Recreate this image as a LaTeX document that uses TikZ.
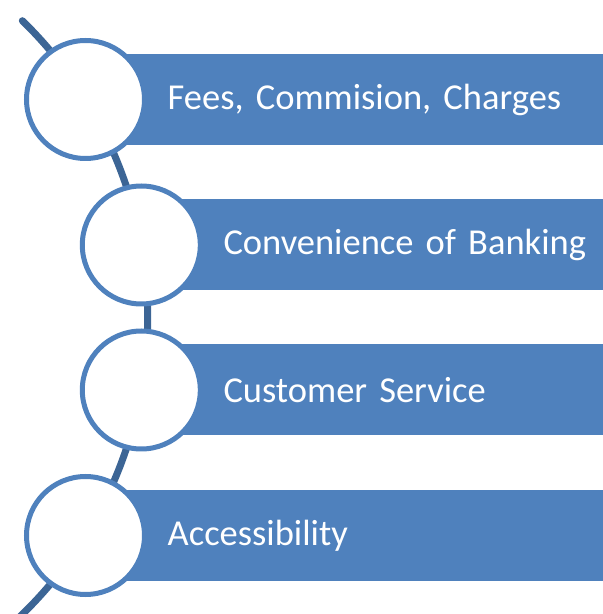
\documentclass[tikz,border=0pt]{standalone}
\usepackage{fontspec}
\setmainfont{Carlito}
\definecolor{barblue}{HTML}{4F81BD}
\definecolor{spineblue}{HTML}{3C6595}
\tikzstyle{bar} = [rectangle, fill=barblue, anchor=west, minimum height=91pt, text width=440pt, align=left, inner xsep=82pt, inner ysep=0pt, text=white, font=\fontsize{36.5}{40}\selectfont]
\tikzstyle{disc} = [circle, draw=barblue, line width=5pt, fill=white, minimum size=118pt, inner sep=0pt]
\tikzstyle{spine} = [line width=7pt, draw=spineblue, line cap=round]

\begin{document}
\begin{tikzpicture}[x=1pt, y=1pt]
  \clip (0,0) rectangle (603,614);
  % big arc running through the four discs
  \coordinate (hub) at (-266.3,296.5);
  \draw [spine] (hub) ++(45.8:414) arc (45.8:-50:414);

  \node (fees) [bar] at (85.5,514.5) {Fees, Commision, Charges};
  \node (conv) [bar] at (141.3,369) {Convenience of Banking};
  \node (serv) [bar] at (141.3,224) {Customer Service};
  \node (acc) [bar] at (85.5,78.5) {Accessibility};

  \node (feesdot) [disc] at (fees.west) {};
  \node (convdot) [disc] at (conv.west) {};
  \node (servdot) [disc] at (serv.west) {};
  \node (accdot) [disc] at (acc.west) {};
\end{tikzpicture}
\end{document}
